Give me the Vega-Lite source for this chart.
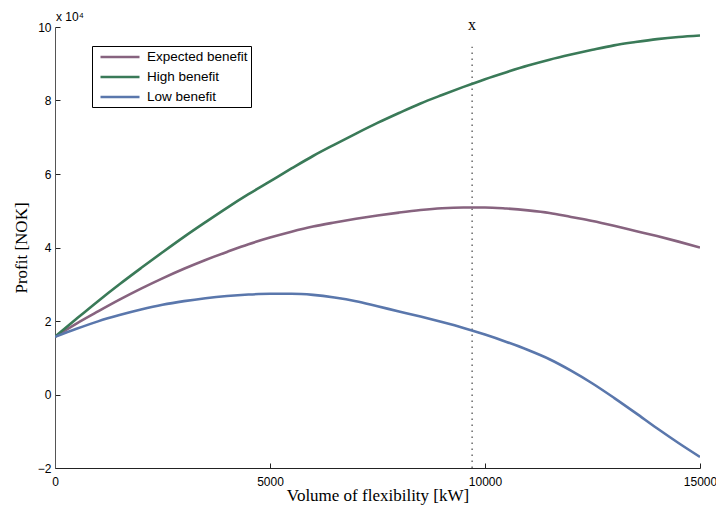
{
  "$schema": "https://vega.github.io/schema/vega-lite/v6.json",
  "width": 645,
  "height": 441,
  "autosize": {"type": "none"},
  "padding": {"left": 55, "top": 27, "right": 16, "bottom": 42},
  "background": "white",
  "config": {"view": {"stroke": null}},
  "datasets": {
    "curves": [
      {"v": 0, "p": 15700, "s": "Expected benefit"},
      {"v": 500, "p": 19300, "s": "Expected benefit"},
      {"v": 1000, "p": 22600, "s": "Expected benefit"},
      {"v": 1500, "p": 25800, "s": "Expected benefit"},
      {"v": 2000, "p": 28800, "s": "Expected benefit"},
      {"v": 2500, "p": 31600, "s": "Expected benefit"},
      {"v": 3000, "p": 34200, "s": "Expected benefit"},
      {"v": 3500, "p": 36600, "s": "Expected benefit"},
      {"v": 4000, "p": 38800, "s": "Expected benefit"},
      {"v": 4500, "p": 40900, "s": "Expected benefit"},
      {"v": 5000, "p": 42700, "s": "Expected benefit"},
      {"v": 5500, "p": 44300, "s": "Expected benefit"},
      {"v": 6000, "p": 45700, "s": "Expected benefit"},
      {"v": 6500, "p": 46800, "s": "Expected benefit"},
      {"v": 7000, "p": 47800, "s": "Expected benefit"},
      {"v": 7500, "p": 48700, "s": "Expected benefit"},
      {"v": 8000, "p": 49500, "s": "Expected benefit"},
      {"v": 8500, "p": 50200, "s": "Expected benefit"},
      {"v": 9000, "p": 50700, "s": "Expected benefit"},
      {"v": 9500, "p": 50900, "s": "Expected benefit"},
      {"v": 10000, "p": 50900, "s": "Expected benefit"},
      {"v": 10500, "p": 50600, "s": "Expected benefit"},
      {"v": 11000, "p": 50100, "s": "Expected benefit"},
      {"v": 11500, "p": 49400, "s": "Expected benefit"},
      {"v": 12000, "p": 48300, "s": "Expected benefit"},
      {"v": 12500, "p": 47200, "s": "Expected benefit"},
      {"v": 13000, "p": 45900, "s": "Expected benefit"},
      {"v": 13500, "p": 44500, "s": "Expected benefit"},
      {"v": 14000, "p": 43100, "s": "Expected benefit"},
      {"v": 14500, "p": 41600, "s": "Expected benefit"},
      {"v": 15000, "p": 40000, "s": "Expected benefit"},
      {"v": 0, "p": 15700, "s": "High benefit"},
      {"v": 500, "p": 20600, "s": "High benefit"},
      {"v": 1000, "p": 25400, "s": "High benefit"},
      {"v": 1500, "p": 30000, "s": "High benefit"},
      {"v": 2000, "p": 34400, "s": "High benefit"},
      {"v": 2500, "p": 38700, "s": "High benefit"},
      {"v": 3000, "p": 42900, "s": "High benefit"},
      {"v": 3500, "p": 46900, "s": "High benefit"},
      {"v": 4000, "p": 50800, "s": "High benefit"},
      {"v": 4500, "p": 54500, "s": "High benefit"},
      {"v": 5000, "p": 58000, "s": "High benefit"},
      {"v": 5500, "p": 61500, "s": "High benefit"},
      {"v": 6000, "p": 64900, "s": "High benefit"},
      {"v": 6500, "p": 68000, "s": "High benefit"},
      {"v": 7000, "p": 71000, "s": "High benefit"},
      {"v": 7500, "p": 73900, "s": "High benefit"},
      {"v": 8000, "p": 76600, "s": "High benefit"},
      {"v": 8500, "p": 79200, "s": "High benefit"},
      {"v": 9000, "p": 81500, "s": "High benefit"},
      {"v": 9500, "p": 83700, "s": "High benefit"},
      {"v": 10000, "p": 85800, "s": "High benefit"},
      {"v": 10500, "p": 87700, "s": "High benefit"},
      {"v": 11000, "p": 89500, "s": "High benefit"},
      {"v": 11500, "p": 91100, "s": "High benefit"},
      {"v": 12000, "p": 92500, "s": "High benefit"},
      {"v": 12500, "p": 93800, "s": "High benefit"},
      {"v": 13000, "p": 95000, "s": "High benefit"},
      {"v": 13500, "p": 95900, "s": "High benefit"},
      {"v": 14000, "p": 96700, "s": "High benefit"},
      {"v": 14500, "p": 97300, "s": "High benefit"},
      {"v": 15000, "p": 97700, "s": "High benefit"},
      {"v": 0, "p": 15700, "s": "Low benefit"},
      {"v": 500, "p": 17900, "s": "Low benefit"},
      {"v": 1000, "p": 19900, "s": "Low benefit"},
      {"v": 1500, "p": 21600, "s": "Low benefit"},
      {"v": 2000, "p": 23100, "s": "Low benefit"},
      {"v": 2500, "p": 24400, "s": "Low benefit"},
      {"v": 3000, "p": 25400, "s": "Low benefit"},
      {"v": 3500, "p": 26200, "s": "Low benefit"},
      {"v": 4000, "p": 26800, "s": "Low benefit"},
      {"v": 4500, "p": 27200, "s": "Low benefit"},
      {"v": 5000, "p": 27400, "s": "Low benefit"},
      {"v": 5500, "p": 27400, "s": "Low benefit"},
      {"v": 6000, "p": 27100, "s": "Low benefit"},
      {"v": 6500, "p": 26400, "s": "Low benefit"},
      {"v": 7000, "p": 25400, "s": "Low benefit"},
      {"v": 7500, "p": 24000, "s": "Low benefit"},
      {"v": 8000, "p": 22600, "s": "Low benefit"},
      {"v": 8500, "p": 21200, "s": "Low benefit"},
      {"v": 9000, "p": 19700, "s": "Low benefit"},
      {"v": 9500, "p": 18100, "s": "Low benefit"},
      {"v": 10000, "p": 16300, "s": "Low benefit"},
      {"v": 10500, "p": 14300, "s": "Low benefit"},
      {"v": 11000, "p": 12100, "s": "Low benefit"},
      {"v": 11500, "p": 9600, "s": "Low benefit"},
      {"v": 12000, "p": 6500, "s": "Low benefit"},
      {"v": 12500, "p": 3000, "s": "Low benefit"},
      {"v": 13000, "p": -900, "s": "Low benefit"},
      {"v": 13500, "p": -5000, "s": "Low benefit"},
      {"v": 14000, "p": -9200, "s": "Low benefit"},
      {"v": 14500, "p": -13200, "s": "Low benefit"},
      {"v": 15000, "p": -17000, "s": "Low benefit"}
    ],
    "marker": [{"v": 9700, "p0": -20000, "p1": 94600, "lab": "x", "top": 100000}],
    "scale_note": [{"v": 0, "p": 100000, "t": "x 10⁴"}]
  },
  "layer": [
    {
      "data": {"name": "marker"},
      "mark": {"type": "rule", "color": "#444444", "strokeWidth": 1.2, "strokeDash": [1.5, 4.5]},
      "encoding": {
        "x": {"field": "v", "type": "quantitative"},
        "y": {"field": "p0", "type": "quantitative"},
        "y2": {"field": "p1"}
      }
    },
    {
      "data": {"name": "curves"},
      "mark": {"type": "line", "strokeWidth": 2.6, "clip": true, "interpolate": "monotone"},
      "encoding": {
        "x": {
          "field": "v", "type": "quantitative",
          "scale": {"domain": [0, 15000], "nice": false, "zero": false},
          "axis": {
            "values": [0, 5000, 10000, 15000],
            "format": "d",
            "title": "Volume of flexibility [kW]",
            "titleFont": "Liberation Serif", "titleFontSize": 17, "titleFontWeight": "normal", "titleColor": "black", "titlePadding": 0,
            "labelFont": "Liberation Sans", "labelFontSize": 12, "labelColor": "black", "labelPadding": 13,
            "tickSize": -5, "tickColor": "#222", "domainColor": "#222", "grid": false, "labelFlush": false
          }
        },
        "y": {
          "field": "p", "type": "quantitative",
          "scale": {"domain": [-20000, 100000], "nice": false, "zero": false},
          "axis": {
            "values": [-20000, 0, 20000, 40000, 60000, 80000, 100000],
            "labelExpr": "format(datum.value/10000, 'd')",
            "title": "Profit [NOK]",
            "titleFont": "Liberation Serif", "titleFontSize": 17, "titleFontWeight": "normal", "titleColor": "black", "titlePadding": 7,
            "labelFont": "Liberation Sans", "labelFontSize": 12, "labelColor": "black", "labelPadding": 9,
            "tickSize": -5, "tickColor": "#222", "domainColor": "#555", "grid": false, "labelFlush": false
          }
        },
        "color": {
          "field": "s", "type": "nominal",
          "scale": {"domain": ["Expected benefit", "High benefit", "Low benefit"], "range": ["#87637F", "#3A7A58", "#5A77AC"]},
          "legend": {
            "title": null, "orient": "none", "legendX": 37, "legendY": 19,
            "strokeColor": "black", "fillColor": "white", "padding": 3,
            "symbolType": "M-3,0H3", "symbolSize": 169, "symbolStrokeWidth": 2.6, "symbolOffset": 17,
            "labelFont": "Liberation Sans", "labelFontSize": 13.5, "labelColor": "black",
            "rowPadding": 5, "labelOffset": 19
          }
        }
      }
    },
    {
      "data": {"name": "marker"},
      "mark": {"type": "text", "font": "Liberation Serif", "fontSize": 16, "baseline": "alphabetic", "dy": 3, "color": "black"},
      "encoding": {
        "x": {"field": "v", "type": "quantitative"},
        "y": {"field": "top", "type": "quantitative"},
        "text": {"field": "lab"}
      }
    },
    {
      "data": {"name": "scale_note"},
      "mark": {"type": "text", "font": "Liberation Sans", "fontSize": 12, "align": "left", "baseline": "alphabetic", "dx": 1, "dy": -6, "color": "black"},
      "encoding": {
        "x": {"field": "v", "type": "quantitative"},
        "y": {"field": "p", "type": "quantitative"},
        "text": {"field": "t"}
      }
    }
  ]
}
